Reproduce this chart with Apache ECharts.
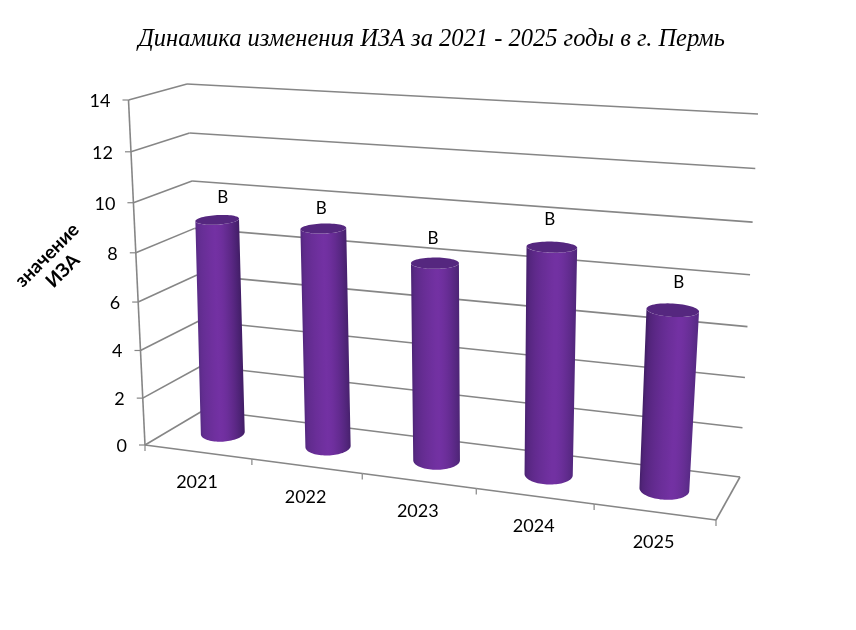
<!DOCTYPE html>
<html><head><meta charset="utf-8">
<style>html,body{margin:0;padding:0;background:#fff}#c{width:856px;height:630px}</style>
<script src="https://cdn.jsdelivr.net/npm/echarts@6/dist/echarts.min.js"></script>
</head><body><div id="c"></div>
<script>
var categories = ['2021','2022','2023','2024','2025'];
var values = [9, 9, 8, 9, 7];
var valueLabels = ['В','В','В','В','В'];
var yTicks = [0,2,4,6,8,10,12,14];
var titleText = 'Динамика изменения ИЗА за 2021 - 2025 годы в г. Пермь';
var axisName = 'значение\nИЗА';
var labelOffsets = [[5.5,-22.5],[-2,-20],[-2,-25],[-2,-28],[6,-28]];

// Perspective box (camera set-up): screen corners of floor and ceiling planes
function homography(p00,p10,p01,p11){
  var dx1=p10[0]-p11[0],dx2=p01[0]-p11[0],sx=p00[0]-p10[0]+p11[0]-p01[0];
  var dy1=p10[1]-p11[1],dy2=p01[1]-p11[1],sy=p00[1]-p10[1]+p11[1]-p01[1];
  var den=dx1*dy2-dx2*dy1, g=(sx*dy2-dx2*sy)/den, h=(dx1*sy-sx*dy1)/den;
  var a=p10[0]-p00[0]+g*p10[0], b=p01[0]-p00[0]+h*p01[0];
  var d=p10[1]-p00[1]+g*p10[1], e=p01[1]-p00[1]+h*p01[1];
  return function(u,v){var w=g*u+h*v+1;return [(a*u+b*v+p00[0])/w,(d*u+e*v+p00[1])/w];};
}
var floorPlane=homography([145,445],[716,520],[204,410],[740,477]);
var ceilPlane=homography([128.5,100],[733,135],[187,84],[758,114]);
var persp=0.06;
function proj(x,y,z){
  var f=floorPlane(x,z), t=ceilPlane(x,z), k=y/(1+persp*(1-y));
  return [f[0]+(t[0]-f[0])*k, f[1]+(t[1]-f[1])*k];
}
function nx(params,px){var c=params.coordSys;return (px-c.x)/c.width;}
function ny(params,py){var c=params.coordSys;return (c.y+c.height-py)/c.height;}

var lineCol='#868686', lineW=1.6, textCol='#000', fontF='Lato';
function seg(a,b,w){return {type:'line',shape:{x1:a[0],y1:a[1],x2:b[0],y2:b[1]},style:{stroke:lineCol,lineWidth:w||lineW,fill:null},silent:true};}

function renderY(params,api){
  var v=api.value(1), y=ny(params,api.coord([0,v])[1]);
  var a=proj(0,y,0), b=proj(0,y,1), c=proj(1,y,1);
  return {type:'group',children:[
    seg(a,b),seg(b,c),seg([a[0]-6,a[1]],a,1.2),
    {type:'text',style:{x:a[0]-18,y:a[1]+1,text:String(v),fill:textCol,font:'18px '+fontF,align:'right',verticalAlign:'middle'}}
  ]};
}
function renderX(params,api){
  var i=api.value(0), pt=api.coord([i,0]), bw=api.size([1,0])[0];
  var x0=nx(params,pt[0]-bw/2), xc=nx(params,pt[0]), x1=nx(params,pt[0]+bw/2);
  var a=proj(x0,0,0), b=proj(x1,0,0), m=proj(xc,0,0);
  var ch=[seg(a,b),seg(b,[b[0],b[1]+6],1.2),
    {type:'text',style:{x:m[0]-1,y:m[1]+30.5,text:categories[i],fill:textCol,font:'18px '+fontF,align:'center',verticalAlign:'middle'}}];
  if(i===0){ch.push(seg(a,[a[0],a[1]+6],1.2));ch.push(seg(a,proj(0,1,0)));}
  if(i===categories.length-1){ch.push(seg(b,proj(1,0,1)));}
  return {type:'group',children:ch};
}
function mix(a,b,t){return a.map(function(v,k){return v+(b[k]-v)*t;});}
function css(c){return 'rgb('+c.map(Math.round).join(',')+')';}
var bright=[115,49,163], darkEdge=[62,28,98], softEdge=[90,44,136], capCol='#55277f';
var zCenter=0.5, barShift=-0.008, radX=0.042, radZ=0.243, tilt=0.14, lean=8, capFlat=0.25;
function renderCyl(params,api){
  var i=api.value(0), v=api.value(1), pt=api.coord([i,v]);
  var xc=nx(params,pt[0])+barShift, yt=ny(params,pt[1]);
  function ctr(y){var c=proj(xc,y,zCenter);return [c[0]+lean*y,c[1]];}
  function ring(y,th){
    var c=ctr(y), l=proj(xc-radX,y,zCenter), r=proj(xc+radX,y,zCenter);
    var hw=Math.hypot(r[0]-l[0],r[1]-l[1])/2;
    var hh=Math.abs(proj(xc,y,zCenter-radZ)[1]-proj(xc,y,zCenter+radZ)[1])/2*(1-capFlat*y);
    var cs=Math.cos(th), sn=Math.sin(th);
    return [c[0]+hw*cs, c[1]+hw*tilt*(xc-0.5)*cs+hh*sn];
  }
  var k, body=[], cap=[], N=40;
  for(k=0;k<=N;k++)body.push(ring(0,Math.PI-Math.PI*k/N));
  for(k=0;k<=N;k++)body.push(ring(yt,Math.PI*k/N));
  for(k=0;k<64;k++)cap.push(ring(yt,2*Math.PI*k/64));
  var peak=0.42+0.24*xc, leftE=mix(softEdge,darkEdge,xc), rightE=mix(darkEdge,softEdge,xc), stops=[];
  for(k=0;k<=16;k++){
    var tm=k/16, col= tm<peak ? mix(leftE,bright,Math.sqrt(tm/peak)) : mix(bright,rightE,Math.pow((tm-peak)/(1-peak),1.6));
    stops.push({offset:tm,color:css(col)});
  }
  var cb=ctr(0), ct=ctr(yt), ax=ct[0]-cb[0], ay=ct[1]-cb[1], len=Math.hypot(ax,ay);
  var rr=ring(yt/2,0), rl=ring(yt/2,Math.PI), hwm=Math.hypot(rr[0]-rl[0],rr[1]-rl[1])/2;
  var mx=(cb[0]+ct[0])/2, my=(cb[1]+ct[1])/2, nxv=-ay/len, nyv=ax/len;
  if(nxv<0){nxv=-nxv;nyv=-nyv;}
  var grad={type:'linear',x:mx-nxv*hwm,y:my-nyv*hwm,x2:mx+nxv*hwm,y2:my+nyv*hwm,colorStops:stops,global:true};
  var off=labelOffsets[i];
  return {type:'group',children:[
    {type:'polygon',shape:{points:body},style:{fill:grad},silent:true},
    {type:'polygon',shape:{points:cap},style:{fill:capCol},silent:true},
    {type:'text',style:{x:ct[0]+off[0],y:ct[1]+off[1],text:valueLabels[i],fill:textCol,font:'17px '+fontF,align:'center',verticalAlign:'middle'}}
  ]};
}
var chart=echarts.init(document.getElementById('c'),null,{renderer:'canvas'});
chart.setOption({
  backgroundColor:'#ffffff',animation:false,
  title:{text:titleText,left:426.5,top:22,textAlign:'center',textStyle:{fontFamily:'Liberation Serif',fontStyle:'italic',fontWeight:'normal',fontSize:24.5,color:'#000'}},
  grid:{left:145,top:100,width:571,height:345,containLabel:false},
  xAxis:{type:'category',data:categories,show:false},
  yAxis:{type:'value',min:0,max:14,interval:2,show:false},
  graphic:[{type:'text',x:55,y:263,rotation:Math.PI/4,style:{text:axisName,fill:'#000',font:'bold 19px '+fontF,align:'center',verticalAlign:'middle',lineHeight:22}}],
  series:[
    {type:'custom',name:'gridY',renderItem:renderY,data:yTicks.map(function(v){return [categories[0],v];}),z:1,silent:true},
    {type:'custom',name:'axisX',renderItem:renderX,data:categories.map(function(c){return [c,0];}),z:2,silent:true},
    {type:'custom',name:'ИЗА',renderItem:renderCyl,data:categories.map(function(c,i){return [c,values[i]];}),z:3,silent:true}
  ]
});
</script></body></html>
